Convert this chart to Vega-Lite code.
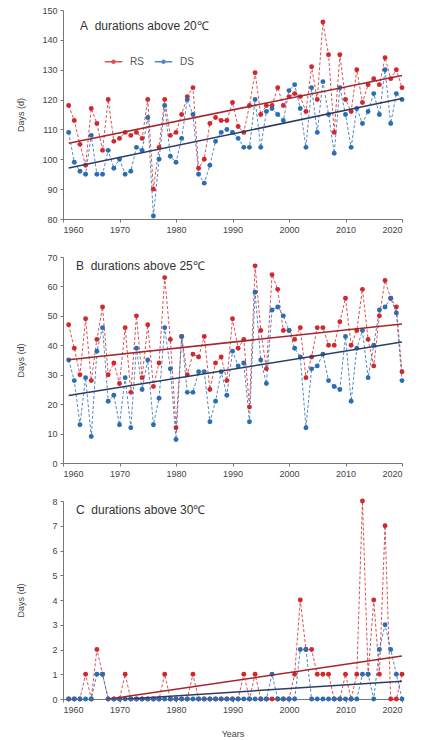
{
  "$schema": "https://vega.github.io/schema/vega-lite/v6.json",
  "background": "white",
  "padding": {"left": 16, "top": 6, "right": 6, "bottom": 0},
  "spacing": 19,
  "config": {
    "view": {"stroke": null},
    "font": "Liberation Sans",
    "axis": {"grid": false, "labelFont": "Liberation Sans", "labelFontSize": 9, "labelColor": "#444", "titleFont": "Liberation Sans", "titleFontSize": 9, "titleFontWeight": "normal", "titleColor": "#444", "domainColor": "#777", "tickColor": "#777", "tickSize": 3, "labelPadding": 3},
    "title": {"font": "Liberation Sans", "fontSize": 12, "fontWeight": "normal", "color": "#333", "anchor": "start", "frame": "group"}
  },
  "datasets": {
    "A": [
      {"year":1961,"RS":118,"DS":109},{"year":1962,"RS":113,"DS":99},{"year":1963,"RS":105,"DS":96},{"year":1964,"RS":98,"DS":95},
      {"year":1965,"RS":117,"DS":108},{"year":1966,"RS":112,"DS":95},{"year":1967,"RS":103,"DS":95},{"year":1968,"RS":120,"DS":103},
      {"year":1969,"RS":106,"DS":97},{"year":1970,"RS":107,"DS":100},{"year":1971,"RS":109,"DS":95},{"year":1972,"RS":108,"DS":96},
      {"year":1973,"RS":109,"DS":104},{"year":1974,"RS":107,"DS":103},{"year":1975,"RS":120,"DS":114},{"year":1976,"RS":90,"DS":81},
      {"year":1977,"RS":104,"DS":100},{"year":1978,"RS":120,"DS":118},{"year":1979,"RS":108,"DS":101},{"year":1980,"RS":109,"DS":99},
      {"year":1981,"RS":115,"DS":107},{"year":1982,"RS":121,"DS":120},{"year":1983,"RS":124,"DS":115},{"year":1984,"RS":97,"DS":95},
      {"year":1985,"RS":100,"DS":92},{"year":1986,"RS":112,"DS":98},{"year":1987,"RS":114,"DS":106},{"year":1988,"RS":113,"DS":109},
      {"year":1989,"RS":113,"DS":110},{"year":1990,"RS":119,"DS":109},{"year":1991,"RS":111,"DS":107},{"year":1992,"RS":109,"DS":104},
      {"year":1993,"RS":118,"DS":104},{"year":1994,"RS":129,"DS":120},{"year":1995,"RS":115,"DS":104},{"year":1996,"RS":118,"DS":116},
      {"year":1997,"RS":118,"DS":117},{"year":1998,"RS":124,"DS":115},{"year":1999,"RS":118,"DS":113},{"year":2000,"RS":121,"DS":123},
      {"year":2001,"RS":122,"DS":125},{"year":2002,"RS":121,"DS":117},{"year":2003,"RS":116,"DS":104},{"year":2004,"RS":131,"DS":124},
      {"year":2005,"RS":120,"DS":109},{"year":2006,"RS":146,"DS":126},{"year":2007,"RS":135,"DS":115},{"year":2008,"RS":109,"DS":102},
      {"year":2009,"RS":135,"DS":124},{"year":2010,"RS":120,"DS":115},{"year":2011,"RS":116,"DS":104},{"year":2012,"RS":130,"DS":117},
      {"year":2013,"RS":119,"DS":112},{"year":2014,"RS":125,"DS":116},{"year":2015,"RS":127,"DS":122},{"year":2016,"RS":125,"DS":115},
      {"year":2017,"RS":134,"DS":130},{"year":2018,"RS":127,"DS":112},{"year":2019,"RS":130,"DS":122},{"year":2020,"RS":124,"DS":120}
    ],
    "B": [
      {"year":1961,"RS":47,"DS":35},{"year":1962,"RS":39,"DS":28},{"year":1963,"RS":30,"DS":13},{"year":1964,"RS":49,"DS":29},
      {"year":1965,"RS":28,"DS":9},{"year":1966,"RS":42,"DS":38},{"year":1967,"RS":53,"DS":46},{"year":1968,"RS":30,"DS":21},
      {"year":1969,"RS":34,"DS":23},{"year":1970,"RS":27,"DS":13},{"year":1971,"RS":46,"DS":29},{"year":1972,"RS":24,"DS":12},
      {"year":1973,"RS":50,"DS":39},{"year":1974,"RS":29,"DS":25},{"year":1975,"RS":47,"DS":35},{"year":1976,"RS":26,"DS":13},
      {"year":1977,"RS":34,"DS":22},{"year":1978,"RS":63,"DS":46},{"year":1979,"RS":42,"DS":32},{"year":1980,"RS":12,"DS":8},
      {"year":1981,"RS":43,"DS":43},{"year":1982,"RS":30,"DS":24},{"year":1983,"RS":37,"DS":24},{"year":1984,"RS":36,"DS":31},
      {"year":1985,"RS":43,"DS":31},{"year":1986,"RS":25,"DS":14},{"year":1987,"RS":34,"DS":21},{"year":1988,"RS":36,"DS":31},
      {"year":1989,"RS":28,"DS":23},{"year":1990,"RS":49,"DS":38},{"year":1991,"RS":39,"DS":33},{"year":1992,"RS":42,"DS":34},
      {"year":1993,"RS":19,"DS":14},{"year":1994,"RS":67,"DS":58},{"year":1995,"RS":45,"DS":35},{"year":1996,"RS":32,"DS":27},
      {"year":1997,"RS":64,"DS":52},{"year":1998,"RS":59,"DS":53},{"year":1999,"RS":45,"DS":50},{"year":2000,"RS":45,"DS":45},
      {"year":2001,"RS":42,"DS":39},{"year":2002,"RS":46,"DS":36},{"year":2003,"RS":29,"DS":12},{"year":2004,"RS":36,"DS":32},
      {"year":2005,"RS":46,"DS":33},{"year":2006,"RS":46,"DS":37},{"year":2007,"RS":40,"DS":28},{"year":2008,"RS":40,"DS":26},
      {"year":2009,"RS":48,"DS":25},{"year":2010,"RS":56,"DS":43},{"year":2011,"RS":40,"DS":21},{"year":2012,"RS":45,"DS":39},
      {"year":2013,"RS":59,"DS":45},{"year":2014,"RS":42,"DS":29},{"year":2015,"RS":33,"DS":40},{"year":2016,"RS":50,"DS":52},
      {"year":2017,"RS":62,"DS":53},{"year":2018,"RS":56,"DS":56},{"year":2019,"RS":53,"DS":51},{"year":2020,"RS":31,"DS":28}
    ],
    "C": [
      {"year":1961,"RS":0,"DS":0},{"year":1962,"RS":0,"DS":0},{"year":1963,"RS":0,"DS":0},{"year":1964,"RS":1,"DS":0},
      {"year":1965,"RS":0,"DS":0},{"year":1966,"RS":2,"DS":1},{"year":1967,"RS":1,"DS":1},{"year":1968,"RS":0,"DS":0},
      {"year":1969,"RS":0,"DS":0},{"year":1970,"RS":0,"DS":0},{"year":1971,"RS":1,"DS":0},{"year":1972,"RS":0,"DS":0},
      {"year":1973,"RS":0,"DS":0},{"year":1974,"RS":0,"DS":0},{"year":1975,"RS":0,"DS":0},{"year":1976,"RS":0,"DS":0},
      {"year":1977,"RS":0,"DS":0},{"year":1978,"RS":1,"DS":0},{"year":1979,"RS":0,"DS":0},{"year":1980,"RS":0,"DS":0},
      {"year":1981,"RS":0,"DS":0},{"year":1982,"RS":0,"DS":0},{"year":1983,"RS":1,"DS":0},{"year":1984,"RS":0,"DS":0},
      {"year":1985,"RS":0,"DS":0},{"year":1986,"RS":0,"DS":0},{"year":1987,"RS":0,"DS":0},{"year":1988,"RS":0,"DS":0},
      {"year":1989,"RS":0,"DS":0},{"year":1990,"RS":0,"DS":0},{"year":1991,"RS":0,"DS":0},{"year":1992,"RS":1,"DS":0},
      {"year":1993,"RS":0,"DS":0},{"year":1994,"RS":1,"DS":0},{"year":1995,"RS":0,"DS":0},{"year":1996,"RS":0,"DS":0},
      {"year":1997,"RS":0,"DS":1},{"year":1998,"RS":0,"DS":0},{"year":1999,"RS":0,"DS":0},{"year":2000,"RS":0,"DS":0},
      {"year":2001,"RS":1,"DS":0},{"year":2002,"RS":4,"DS":2},{"year":2003,"RS":2,"DS":2},{"year":2004,"RS":2,"DS":0},
      {"year":2005,"RS":1,"DS":0},{"year":2006,"RS":1,"DS":0},{"year":2007,"RS":1,"DS":0},{"year":2008,"RS":0,"DS":0},
      {"year":2009,"RS":0,"DS":0},{"year":2010,"RS":1,"DS":0},{"year":2011,"RS":0,"DS":0},{"year":2012,"RS":1,"DS":0},
      {"year":2013,"RS":8,"DS":1},{"year":2014,"RS":1,"DS":1},{"year":2015,"RS":4,"DS":0},{"year":2016,"RS":1,"DS":2},
      {"year":2017,"RS":7,"DS":3},{"year":2018,"RS":0,"DS":2},{"year":2019,"RS":0,"DS":1},{"year":2020,"RS":1,"DS":0}
    ]
  },
  "resolve": {"scale": {"color": "independent", "x": "independent", "y": "independent"}, "legend": {"color": "independent"}},
  "vconcat": [
    {
      "width": 339, "height": 209,
      "data": {"name": "A"},
      "transform": [{"fold": ["RS", "DS"], "as": ["type", "days"]}],
      "title": {"text": "A\u00a0\u00a0durations above 20℃", "offset": -27, "dx": 17},
      "encoding": {
        "x": {"field": "year", "type": "quantitative", "scale": {"domain": [1960, 2020], "nice": false, "zero": false}, "axis": {"values": [1960,1970,1980,1990,2000,2010,2020], "format": "d", "title": null}},
        "y": {"field": "days", "type": "quantitative", "scale": {"domain": [80, 150], "nice": false, "zero": false}, "axis": {"values": [80,90,100,110,120,130,140,150], "title": "Days (d)", "titleX": -38}}
      },
      "layer": [
        {"mark": {"type": "line", "strokeDash": [3, 2], "strokeWidth": 1, "opacity": 0.8},
         "encoding": {"color": {"field": "type", "type": "nominal", "sort": ["RS", "DS"], "scale": {"domain": ["RS", "DS"], "range": ["#d1282e", "#2a6db0"]},
           "legend": {"orient": "none", "legendX": 44, "legendY": 45, "direction": "horizontal", "title": null, "symbolType": "M-1.6,0L1.6,0M0,-0.3A0.3,0.3,0,1,1,0,0.3A0.3,0.3,0,1,1,0,-0.3Z", "symbolSize": 120, "symbolStrokeWidth": 1.3, "labelFontSize": 10, "labelColor": "#555", "labelOffset": 10, "columnPadding": 8, "labelFont": "Liberation Sans"}}}},
        {"mark": {"type": "point", "filled": true, "size": 24, "opacity": 1},
         "encoding": {"color": {"field": "type", "type": "nominal", "sort": ["RS", "DS"], "scale": {"domain": ["RS", "DS"], "range": ["#d1282e", "#2a6db0"]}}}},
        {"transform": [{"filter": "datum.type === 'RS'"}, {"regression": "days", "on": "year"}],
         "mark": {"type": "line", "color": "#a3262c", "strokeWidth": 1.5, "clip": true}, "encoding": {}},
        {"transform": [{"filter": "datum.type === 'DS'"}, {"regression": "days", "on": "year"}],
         "mark": {"type": "line", "color": "#2d3c63", "strokeWidth": 1.5, "clip": true}, "encoding": {}}
      ]
    },
    {
      "width": 339, "height": 206,
      "data": {"name": "B"},
      "transform": [{"fold": ["RS", "DS"], "as": ["type", "days"]}],
      "title": {"text": "B\u00a0\u00a0durations above 25℃", "offset": -20, "dx": 13},
      "encoding": {
        "x": {"field": "year", "type": "quantitative", "scale": {"domain": [1960, 2020], "nice": false, "zero": false}, "axis": {"values": [1960,1970,1980,1990,2000,2010,2020], "format": "d", "title": null}},
        "y": {"field": "days", "type": "quantitative", "scale": {"domain": [0, 70], "nice": false}, "axis": {"values": [0,10,20,30,40,50,60,70], "title": "Days (d)", "titleX": -38}}
      },
      "layer": [
        {"mark": {"type": "line", "strokeDash": [3, 2], "strokeWidth": 1, "opacity": 0.8},
         "encoding": {"color": {"field": "type", "type": "nominal", "sort": ["RS", "DS"], "scale": {"domain": ["RS", "DS"], "range": ["#d1282e", "#2a6db0"]}, "legend": null}}},
        {"mark": {"type": "point", "filled": true, "size": 24, "opacity": 1},
         "encoding": {"color": {"field": "type", "type": "nominal", "sort": ["RS", "DS"], "scale": {"domain": ["RS", "DS"], "range": ["#d1282e", "#2a6db0"]}, "legend": null}}},
        {"transform": [{"filter": "datum.type === 'RS'"}, {"regression": "days", "on": "year"}],
         "mark": {"type": "line", "color": "#a3262c", "strokeWidth": 1.5, "clip": true}, "encoding": {}},
        {"transform": [{"filter": "datum.type === 'DS'"}, {"regression": "days", "on": "year"}],
         "mark": {"type": "line", "color": "#2d3c63", "strokeWidth": 1.5, "clip": true}, "encoding": {}}
      ]
    },
    {
      "width": 339, "height": 198,
      "data": {"name": "C"},
      "transform": [{"fold": ["RS", "DS"], "as": ["type", "days"]}],
      "title": {"text": "C\u00a0\u00a0durations above 30℃", "offset": -20, "dx": 13},
      "encoding": {
        "x": {"field": "year", "type": "quantitative", "scale": {"domain": [1960, 2020], "nice": false, "zero": false}, "axis": {"values": [1960,1970,1980,1990,2000,2010,2020], "format": "d", "title": "Years", "titlePadding": 15}},
        "y": {"field": "days", "type": "quantitative", "scale": {"domain": [0, 8], "nice": false}, "axis": {"values": [0,1,2,3,4,5,6,7,8], "title": "Days (d)", "titleX": -38}}
      },
      "layer": [
        {"mark": {"type": "line", "strokeDash": [3, 2], "strokeWidth": 1, "opacity": 0.8},
         "encoding": {"color": {"field": "type", "type": "nominal", "sort": ["RS", "DS"], "scale": {"domain": ["RS", "DS"], "range": ["#d1282e", "#2a6db0"]}, "legend": null}}},
        {"mark": {"type": "point", "filled": true, "size": 24, "opacity": 1},
         "encoding": {"color": {"field": "type", "type": "nominal", "sort": ["RS", "DS"], "scale": {"domain": ["RS", "DS"], "range": ["#d1282e", "#2a6db0"]}, "legend": null}}},
        {"transform": [{"filter": "datum.type === 'RS'"}, {"regression": "days", "on": "year"}],
         "mark": {"type": "line", "color": "#a3262c", "strokeWidth": 1.5, "clip": true}, "encoding": {}},
        {"transform": [{"filter": "datum.type === 'DS'"}, {"regression": "days", "on": "year"}],
         "mark": {"type": "line", "color": "#2d3c63", "strokeWidth": 1.5, "clip": true}, "encoding": {}}
      ]
    }
  ]
}
